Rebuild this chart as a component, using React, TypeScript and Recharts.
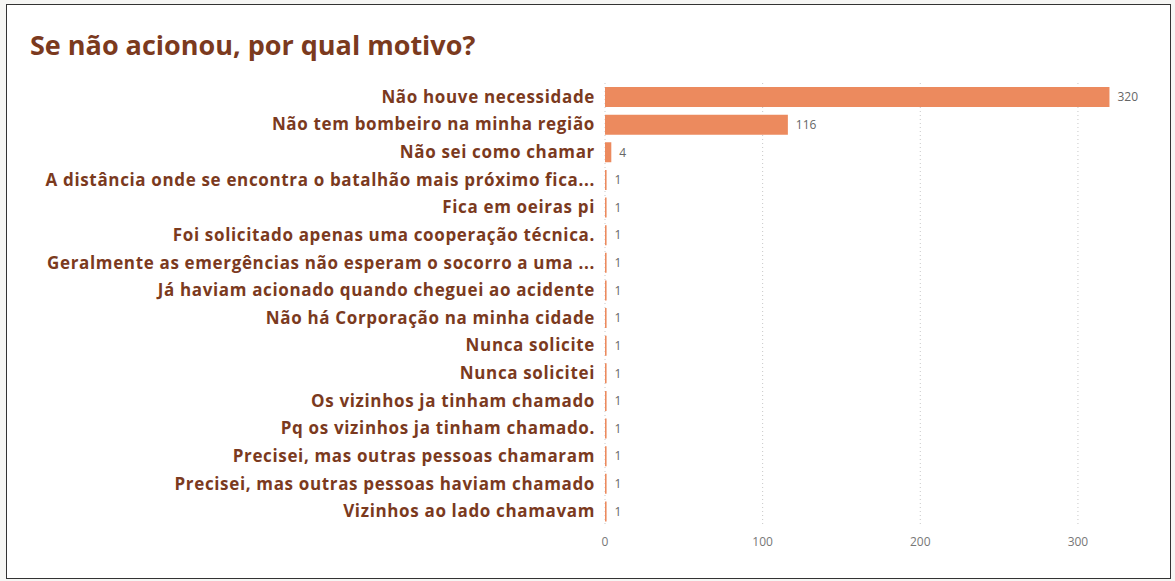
import { BarChart, Bar, XAxis, YAxis, CartesianGrid, LabelList } from 'recharts';

const motivos = [
  'Não houve necessidade',
  'Não tem bombeiro na minha região',
  'Não sei como chamar',
  'A distância onde se encontra o batalhão mais próximo fica...',
  'Fica em oeiras pi',
  'Foi solicitado apenas uma cooperação técnica.',
  'Geralmente as emergências não esperam o socorro a uma ...',
  'Já haviam acionado quando cheguei ao acidente',
  'Não há Corporação na minha cidade',
  'Nunca solicite',
  'Nunca solicitei',
  'Os vizinhos ja tinham chamado',
  'Pq os vizinhos ja tinham chamado.',
  'Precisei, mas outras pessoas chamaram',
  'Precisei, mas outras pessoas haviam chamado',
  'Vizinhos ao lado chamavam',
];
const contagem = [320, 116, 4, 1, 1, 1, 1, 1, 1, 1, 1, 1, 1, 1, 1, 1];
const xTicks = [0, 100, 200, 300];

const data = motivos.map((m, i) => ({ motivo: m, total: contagem[i] }));

export default function App() {
  return (
    <div style={{ position: 'fixed', left: 0, top: 0, width: 1175, height: 581, background: '#f6f6f4' }}>
      <div
        style={{
          position: 'absolute',
          left: 6,
          top: 4,
          width: 1163,
          height: 573,
          background: '#fff',
          border: '1px solid #333',
        }}
      />
      <div
        style={{
          position: 'absolute',
          left: 30,
          top: 26,
          fontFamily: '"Open Sans", sans-serif',
          fontWeight: 700,
          fontSize: 27,
          color: '#7b3a1e',
        }}
      >
        Se não acionou, por qual motivo?
      </div>
      <div style={{ position: 'absolute', left: 0, top: 0 }}>
        <BarChart
          width={1175}
          height={581}
          data={data}
          layout="vertical"
          margin={{ top: 83, right: 34, bottom: 26, left: 0 }}
        >
          <CartesianGrid
            horizontal={false}
            strokeDasharray="1 3"
            stroke="#c8c8c8"
            verticalCoordinatesGenerator={({ offset }: any) =>
              xTicks.map((t) => offset.left + (t / 340) * offset.width)
            }
          />
          <XAxis
            type="number"
            domain={[0, 340]}
            ticks={xTicks}
            axisLine={false}
            tickLine={false}
            tickSize={0}
            tickMargin={12}
            height={30}
            tick={{ fontSize: 12, fill: '#777', fontFamily: '"Open Sans", sans-serif' }}
          />
          <YAxis
            type="category"
            dataKey="motivo"
            width={605}
            axisLine={false}
            tickLine={false}
            tickSize={0}
            tickMargin={10}
            interval={0}
            tick={{
              fontSize: 17,
              fill: '#7b3a1e',
              fontWeight: 700,
              letterSpacing: 0.65,
              fontFamily: '"Open Sans", sans-serif',
            }}
          />
          <Bar dataKey="total" fill="#ec8a5e" barSize={20} isAnimationActive={false}>
            <LabelList
              dataKey="total"
              position="right"
              offset={8}
              fill="#666"
              fontSize={12}
              fontFamily='"Open Sans", sans-serif'
            />
          </Bar>
        </BarChart>
      </div>
    </div>
  );
}
